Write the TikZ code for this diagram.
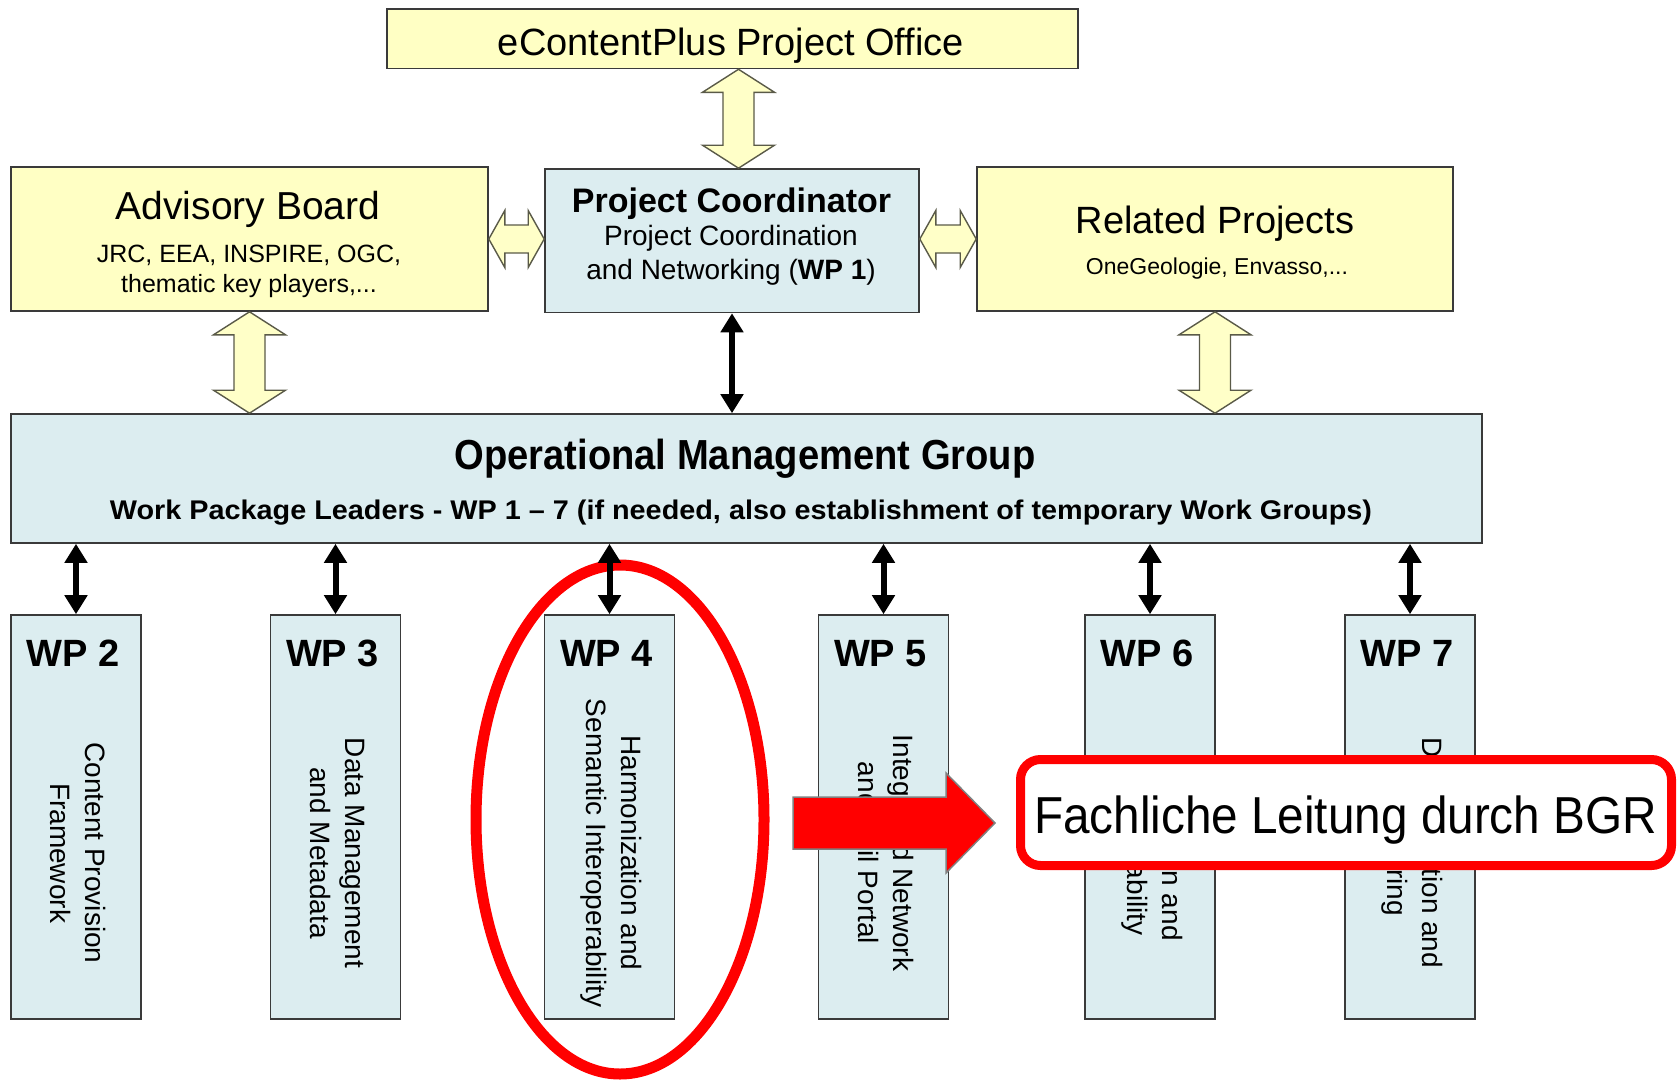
\documentclass[tikz,border=0pt]{standalone}
\usepackage{fontspec}
\setmainfont{Liberation Sans}
\usepackage{graphicx}
\usetikzlibrary{arrows.meta,calc}
\definecolor{boxyellow}{HTML}{FFFFC4}
\definecolor{boxblue}{HTML}{DCEDF0}
\definecolor{boxline}{HTML}{3A3A3A}
\definecolor{harrowfill}{HTML}{FFFFC8}
\definecolor{harrowline}{HTML}{5A5A48}
\definecolor{bgrred}{HTML}{FF0000}
\definecolor{redoutline}{HTML}{808080}
\newcommand{\fsz}[2]{\fontsize{#1}{#2}\selectfont}
\newcommand{\hollowV}[2]{%
  \draw[hollow] (#1) -- ($(#1)+(36,23)$) -- ($(#1)+(15.5,23)$) -- ($(#2)+(15.5,-23)$) -- ($(#2)+(36,-23)$) -- (#2) -- ($(#2)+(-36,-23)$) -- ($(#2)+(-15.5,-23)$) -- ($(#1)+(-15.5,23)$) -- ($(#1)+(-36,23)$) -- cycle;}
\newcommand{\hollowH}[2]{%
  \draw[hollow] (#1) -- ($(#1)+(16,-28.5)$) -- ($(#1)+(16,-14)$) -- ($(#2)+(-16,-14)$) -- ($(#2)+(-16,-28.5)$) -- (#2) -- ($(#2)+(-16,28.5)$) -- ($(#2)+(-16,14)$) -- ($(#1)+(16,14)$) -- ($(#1)+(16,28.5)$) -- cycle;}
\begin{document}
\begin{tikzpicture}[x=1pt,y=-1pt,
  ybox/.style={draw=boxline, line width=1.6pt, fill=boxyellow, inner sep=0pt},
  bbox/.style={draw=boxline, line width=1.6pt, fill=boxblue, inner sep=0pt},
  txt/.style={inner sep=0pt, anchor=base},
  hollow/.style={draw=harrowline, line width=1.4pt, fill=harrowfill, line join=miter},
  blk/.style={line width=6pt, {Triangle[width=22pt,length=19pt]}-{Triangle[width=22pt,length=19pt]}},
  wpbox/.style={bbox, minimum width=130pt, minimum height=404pt},
  wptitle/.style={txt, font=\fsz{38}{44}\bfseries},
  wptext/.style={inner sep=0pt, rotate=-90, align=center, font=\fsz{28}{35}},
]
\useasboundingbox (0,0) rectangle (1678,1081);
\fill[white] (0,0) rectangle (1678,1081);

% boxes
\node[ybox, minimum width=691pt, minimum height=59.5pt] (office) at (732.5,38.75) {};
\node[ybox, minimum width=477pt, minimum height=144pt] (adv) at (249.5,239) {};
\node[bbox, minimum width=374pt, minimum height=143.5pt] (pc) at (732,240.75) {};
\node[ybox, minimum width=476pt, minimum height=144pt] (rel) at (1215,239) {};
\node[bbox, minimum width=1471pt, minimum height=129pt] (omg) at (746.5,478.5) {};
\node[wpbox] (wp2) at (76,817) {};
\node[wpbox] (wp3) at (335.5,817) {};
\node[wpbox] (wp4) at (609.5,817) {};
\node[wpbox] (wp5) at (883.5,817) {};
\node[wpbox] (wp6) at (1150,817) {};
\node[wpbox] (wp7) at (1410,817) {};

% texts
\node[txt, font=\fsz{38}{44}] (officet) at (731,55.6) {eContentPlus Project Office};
\node[txt, font=\fsz{39}{44}] (advt) at (248,219) {Advisory Board};
\node[txt, font=\fsz{25}{30}] (adv2) at (249,262) {JRC, EEA, INSPIRE, OGC,};
\node[txt, font=\fsz{25}{30}] (adv3) at (249,292) {thematic key players,...};
\node[txt, font=\fsz{34}{40}\bfseries] (pct) at (731.5,212) {Project Coordinator};
\node[txt, font=\fsz{28}{34}] (pc2) at (731,245) {Project Coordination};
\node[txt, font=\fsz{28}{34}] (pc3) at (731,279) {and Networking (\textbf{WP 1})};
\node[txt, font=\fsz{38}{44}] (relt) at (1215,233) {Related Projects};
\node[txt, font=\fsz{23}{28}] (rel2) at (1217,274) {OneGeologie, Envasso,...};
\node[txt] (omgt) at (745,469) {\resizebox{581pt}{\height}{\fsz{42}{48}\bfseries Operational Management Group}};
\node[txt] (omg2) at (741,519) {\resizebox{1262pt}{\height}{\fsz{27}{32}\bfseries Work Package Leaders - WP 1 -- 7 (if needed, also establishment of temporary Work Groups)}};

\node[wptitle] (wp2t) at (73,666) {WP 2};
\node[wptitle] (wp3t) at (332.5,666) {WP 3};
\node[wptitle] (wp4t) at (606.5,666) {WP 4};
\node[wptitle] (wp5t) at (880.5,666) {WP 5};
\node[wptitle] (wp6t) at (1147,666) {WP 6};
\node[wptitle] (wp7t) at (1407,666) {WP 7};

\node[wptext] (wp2x) at (78,853) {Content Provision\\Framework};
\node[wptext] (wp3x) at (337.5,853) {Data Management\\and Metadata};
\node[wptext] (wp4x) at (611.5,853) {Harmonization and\\Semantic Interoperability};
\node[wptext] (wp5x) at (885.5,853) {Integrated Network\\and Soil Portal};
\node[wptext] (wp6x) at (1152,853) {Validation and\\Sustainability};
\node[wptext] (wp7x) at (1412,853) {Dissemination and\\Clustering};

% hollow arrows
\coordinate (o1) at ($(office.south)+(6,0)$);
\coordinate (o2) at (o1 |- pc.north);
\hollowV{o1}{o2}
\coordinate (a1) at (adv.south);
\coordinate (a2) at (adv.south |- omg.north);
\hollowV{a1}{a2}
\coordinate (r1) at (rel.south);
\coordinate (r2) at (rel.south |- omg.north);
\hollowV{r1}{r2}
\coordinate (h1) at (adv.east);
\coordinate (h2) at (pc.west |- adv.east);
\hollowH{h1}{h2}
\coordinate (h3) at (pc.east |- rel.west);
\coordinate (h4) at (rel.west);
\hollowH{h3}{h4}

% red ellipse
\draw[bgrred, line width=11pt] (620,819.5) ellipse [x radius=144, y radius=254.5];

% black arrows
\draw[blk] (pc.south) -- (pc.south |- omg.north);
\foreach \w in {wp2,wp3,wp4,wp5,wp6,wp7}{
  \draw[blk] (\w.north |- omg.south) -- (\w.north);
}

% red arrow and callout
\node[draw=bgrred, line width=9pt, rounded corners=20pt, fill=white, minimum width=651pt, minimum height=106pt, inner sep=0pt] (fach) at (1346,812.5) {};
\node[txt] (facht) at (1345.5,833) {\resizebox{623pt}{\height}{\fsz{52}{60}Fachliche Leitung durch BGR}};
\coordinate (rt) at (793,823);
\coordinate (rtip) at ($(fach.west)+(-21,10.5)$);
\draw[fill=bgrred, draw=redoutline, line width=1.5pt, line join=miter]
  ($(rt)+(0,-26)$) -- ($(rtip)+(-49,-26)$) -- ($(rtip)+(-49,-50)$) -- (rtip)
  -- ($(rtip)+(-49,50)$) -- ($(rtip)+(-49,26)$) -- ($(rt)+(0,26)$) -- cycle;
\end{tikzpicture}
\end{document}
